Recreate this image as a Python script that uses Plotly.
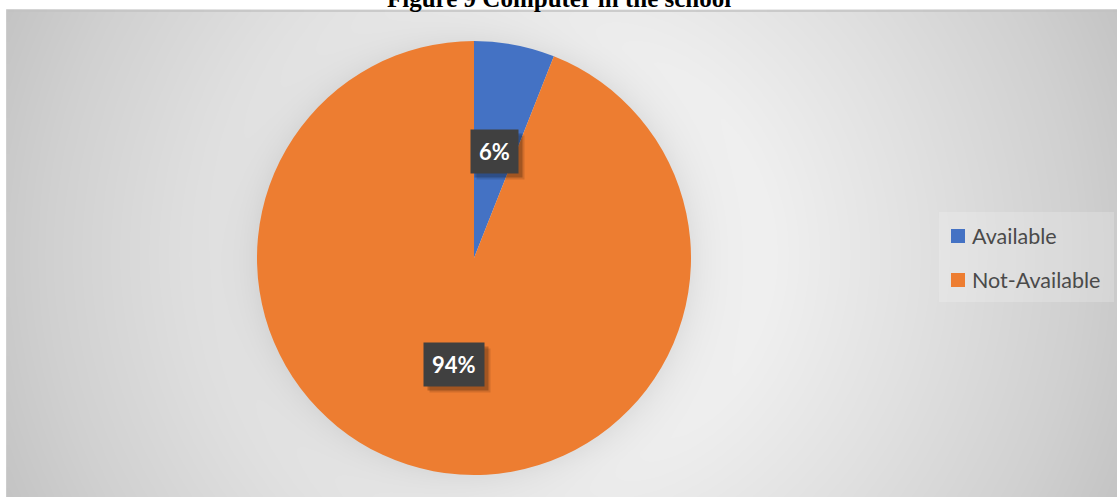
import math
import numpy as np
import plotly.graph_objects as go

# ---- data ----
labels = ["Available", "Not-Available"]
values = [6, 94]
colors = ["#4472C4", "#ED7D31"]
title_text = "Figure 9 Computer in the school"

W, H = 1117, 497
# chart area (pixels)
AX0, AY0, AX1, AY1 = 8, 11, W, H
# pie placement (pixels)
PCX, PCY, PR = 474, 258, 217

fig = go.Figure()

# ---- soft radial background with a glow-like shadow around the pie ----
nx, ny = 300, 140
xs = np.linspace(AX0, AX1, nx)
ys = np.linspace(AY0, AY1, ny)
X, Y = np.meshgrid(xs, ys)
cx, cy = (AX0 + AX1) / 2, (AY0 + AY1) / 2
rmax = math.hypot(AX1 - cx, AY1 - cy)
d = np.hypot(X - cx, Y - cy) / rmax
shade = np.interp(d, [0, 0.35, 0.6, 0.85, 1.0], [244, 239, 224, 208, 196])
s = np.hypot(X - PCX, Y - PCY) - PR
shade = shade - np.where(s > 0, 16 * np.exp(-s / 20), 16)
fig.add_trace(go.Heatmap(
    x=xs, y=ys, z=shade, zmin=0, zmax=255, zsmooth="best",
    colorscale=[[0, "rgb(0,0,0)"], [1, "rgb(255,255,255)"]],
    showscale=False, hoverinfo="skip",
))

# ---- pie ----
fig.add_trace(go.Pie(
    labels=labels, values=values, sort=False, direction="clockwise", rotation=0,
    marker=dict(colors=colors, line=dict(width=0)),
    textinfo="none", hoverinfo="label+percent", showlegend=False,
    domain=dict(x=[(PCX - PR) / W, (PCX + PR) / W],
                y=[(H - PCY - PR) / H, (H - PCY + PR) / H]),
))

annotations = []
shapes = []

# percentage labels in dark boxes, placed at each slice's mid angle
total = sum(values)
cum = 0
for v in values:
    mid = (cum + v / 2) / total * 2 * math.pi
    cum += v
    lx = PCX + 0.5 * PR * math.sin(mid)
    ly = PCY - 0.5 * PR * math.cos(mid)
    txt = f"{round(v / total * 100)}%"
    for alpha, dx in [(0.12, 6), (0.22, 4)]:
        annotations.append(dict(
            x=lx / W, y=1 - ly / H, xref="paper", yref="paper",
            xanchor="center", yanchor="middle",
            text=f"<b>{txt}</b>", showarrow=False, xshift=dx, yshift=-dx,
            font=dict(family="Lato", size=22, color="rgba(0,0,0,0)"),
            bgcolor=f"rgba(0,0,0,{alpha})", borderpad=8,
        ))
    annotations.append(dict(
        x=lx / W, y=1 - ly / H, xref="paper", yref="paper",
        xanchor="center", yanchor="middle",
        text=f"<b>{txt}</b>", showarrow=False,
        font=dict(family="Lato", size=22, color="#ffffff"),
        bgcolor="#404040", borderpad=8,
    ))

# ---- legend ----
LX0, LY0, LX1, LY1 = 939, 212, 1114, 302
shapes.append(dict(type="rect", xref="paper", yref="paper",
                   x0=LX0 / W, x1=LX1 / W, y0=1 - LY1 / H, y1=1 - LY0 / H,
                   fillcolor="rgba(255,255,255,0.2)", line=dict(width=0),
                   layer="above"))
for i, (lab, col) in enumerate(zip(labels, colors)):
    yc = 236 + 44 * i
    shapes.append(dict(type="rect", xref="paper", yref="paper",
                       x0=951 / W, x1=965 / W, y0=1 - (yc + 7) / H, y1=1 - (yc - 7) / H,
                       fillcolor=col, line=dict(width=0), layer="above"))
    annotations.append(dict(
        x=970 / W, y=1 - yc / H, xref="paper", yref="paper",
        xanchor="left", yanchor="middle", text=lab, showarrow=False,
        font=dict(family="Lato", size=21.5, color="#4a4a4a"),
    ))

# top edge of the chart area
shapes.append(dict(type="line", xref="paper", yref="paper",
                   x0=AX0 / W, x1=1, y0=1 - AY0 / H, y1=1 - AY0 / H,
                   line=dict(color="#c2c2c2", width=1.5), layer="above"))

# title (partly above the visible page)
annotations.append(dict(
    x=559.5 / W, y=1 + 1.5 / H, xref="paper", yref="paper",
    xanchor="center", yanchor="middle", text=f"<b>{title_text}</b>",
    showarrow=False, font=dict(family="Liberation Serif", size=25, color="#000000"),
))

fig.update_layout(
    width=W, height=H,
    margin=dict(l=0, r=0, t=0, b=0),
    paper_bgcolor="#ffffff", plot_bgcolor="#ffffff",
    xaxis=dict(range=[0, W], visible=False, fixedrange=True),
    yaxis=dict(range=[H, 0], visible=False, fixedrange=True),
    annotations=annotations, shapes=shapes,
    showlegend=False,
)

fig.write_html("out.html")
